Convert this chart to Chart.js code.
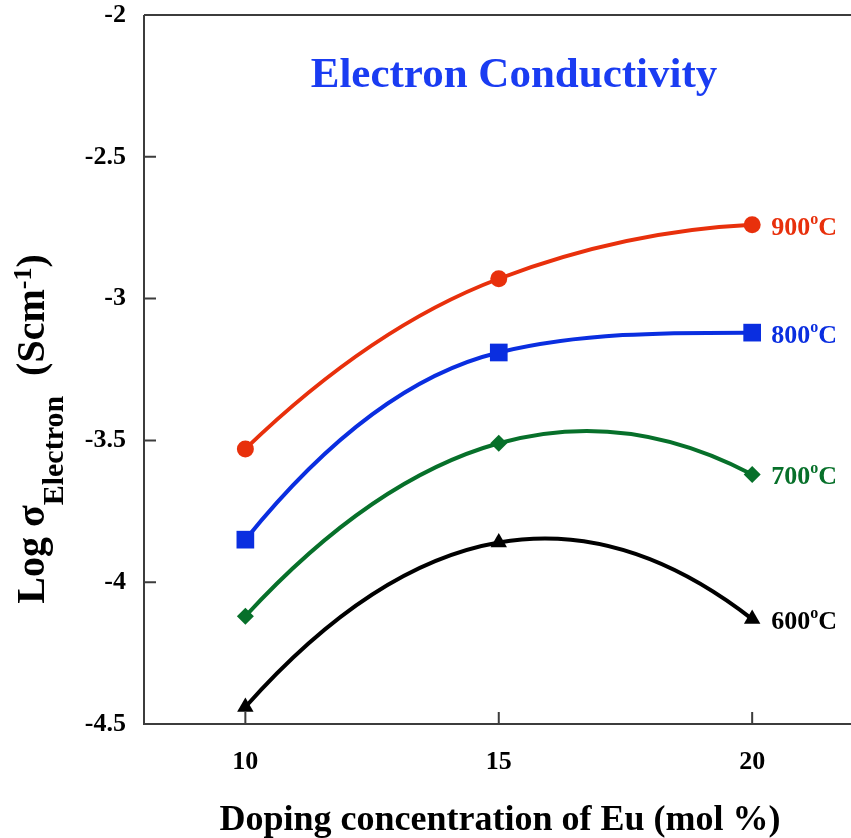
<!DOCTYPE html>
<html>
<head>
<meta charset="utf-8">
<script src="https://cdn.jsdelivr.net/npm/chart.js@4.4.0/dist/chart.umd.min.js"></script>
<style>
  html, body { margin: 0; padding: 0; background: #fff; overflow: hidden; }
  #wrap { width: 851px; height: 838px; }
  canvas { display: block; }
</style>
</head>
<body>
<div id="wrap"><canvas id="chart" width="851" height="838"></canvas></div>
<script>
// Eu doping level (mol %) and log electron conductivity per temperature
const dopingLevels = [10, 15, 20];
const temperatures = ['900', '800', '700', '600'];
const log900 = [-3.53, -2.93, -2.74];
const log800 = [-3.85, -3.19, -3.12];
const log700 = [-4.12, -3.51, -3.62];
const log600 = [-4.44, -3.86, -4.13];
const xTicks = [10, 15, 20];
const yTicks = [-2, -2.5, -3, -3.5, -4, -4.5];

const SERIF = '"Liberation Serif", "Times New Roman", serif';
const colors = ['#e8300c', '#0a2ee0', '#07702a', '#000000'];
const markers = ['circle', 'rect', 'rectRot', 'triangle'];
const markerSizes = [8.5, 12.5, 8.5, 9.5];

function makeSeries(values, i) {
    return {
        label: temperatures[i] + '°C',
        data: dopingLevels.map((x, k) => ({ x: x, y: values[k] })),
        borderColor: colors[i],
        backgroundColor: colors[i],
        borderWidth: 4,
        pointStyle: markers[i],
        pointRadius: markerSizes[i],
        pointBorderWidth: 0,
        tension: 0.4,
        clip: false
    };
}

// smoother bezier handles: concave ends, no overshoot on monotone runs
const smoothPlugin = {
    id: 'smooth',
    beforeDatasetDraw(chart, args) {
        const meta = args.meta;
        const pts = meta.data;
        const n = pts.length;
        if (n < 3) return;
        const s = [];
        for (let k = 0; k < n - 1; k++) {
            s.push((pts[k + 1].y - pts[k].y) / (pts[k + 1].x - pts[k].x));
        }
        const m = new Array(n);
        for (let i = 1; i < n - 1; i++) {
            const a = s[i - 1], b = s[i];
            m[i] = a * b > 0 ? Math.sign(a) * Math.sqrt(a * b) : (a + b) / 2;
        }
        m[0] = 2 * s[0] - m[1];
        if (s[0] * m[1] > 0 && m[0] * s[0] < 0) m[0] = 0;
        m[n - 1] = 2 * s[n - 2] - m[n - 2];
        if (s[n - 2] * m[n - 2] > 0 && m[n - 1] * s[n - 2] < 0) m[n - 1] = 0;
        pts.forEach((p, i) => {
            const hp = i > 0 ? (p.x - pts[i - 1].x) / 3 : 0;
            const hn = i < n - 1 ? (pts[i + 1].x - p.x) / 3 : 0;
            p.cp1x = p.x - hp;
            p.cp1y = p.y - m[i] * hp;
            p.cp2x = p.x + hn;
            p.cp2y = p.y + m[i] * hn;
        });
        meta.dataset._pointsUpdated = true;
    }
};

// axes frame with inward tick marks
const framePlugin = {
    id: 'frame',
    beforeDatasetsDraw(chart) {
        const { ctx, chartArea: a, scales } = chart;
        ctx.save();
        ctx.strokeStyle = '#3c3c3c';
        ctx.lineWidth = 2;
        ctx.beginPath();
        ctx.moveTo(a.left, a.top);
        ctx.lineTo(a.right, a.top);
        ctx.moveTo(a.left, a.top);
        ctx.lineTo(a.left, a.bottom);
        ctx.lineTo(a.right, a.bottom);
        yTicks.forEach(v => {
            const py = scales.y.getPixelForValue(v);
            ctx.moveTo(a.left, py);
            ctx.lineTo(a.left + 12, py);
        });
        xTicks.forEach(v => {
            const px = scales.x.getPixelForValue(v);
            ctx.moveTo(px, a.bottom);
            ctx.lineTo(px, a.bottom - 12);
        });
        ctx.stroke();
        ctx.restore();
    }
};

// title, axis titles and the temperature labels at the end of each curve
const textPlugin = {
    id: 'texts',
    afterDatasetsDraw(chart) {
        const { ctx, scales } = chart;
        ctx.save();

        ctx.fillStyle = '#1a3cf2';
        ctx.font = 'bold 43px ' + SERIF;
        ctx.textAlign = 'center';
        ctx.textBaseline = 'alphabetic';
        ctx.fillText('Electron Conductivity', 514, 87);

        ctx.fillStyle = '#000';
        ctx.font = 'bold 36px ' + SERIF;
        ctx.fillText('Doping concentration of Eu (mol %)', 500, 830);

        // y title with subscript and superscript
        const parts = [
            { t: 'Log σ', f: 'bold 40px ', dy: 0 },
            { t: 'Electron', f: 'bold 30px ', dy: 19 },
            { t: '  (Scm', f: 'bold 40px ', dy: 0 },
            { t: '-1', f: 'bold 26px ', dy: -13 },
            { t: ')', f: 'bold 40px ', dy: 0 }
        ];
        let total = 0;
        parts.forEach(p => { ctx.font = p.f + SERIF; p.w = ctx.measureText(p.t).width; total += p.w; });
        ctx.translate(44, 429);
        ctx.rotate(-Math.PI / 2);
        ctx.textAlign = 'left';
        let x = -total / 2;
        parts.forEach(p => {
            ctx.font = p.f + SERIF;
            ctx.fillText(p.t, x, p.dy);
            x += p.w;
        });
        ctx.setTransform(1, 0, 0, 1, 0, 0);

        // end-of-curve labels
        chart.data.datasets.forEach((ds, i) => {
            const last = ds.data[ds.data.length - 1];
            let px = scales.x.getPixelForValue(last.x) + 19;
            const py = scales.y.getPixelForValue(last.y) + 10;
            ctx.fillStyle = colors[i];
            ctx.textAlign = 'left';
            ctx.font = 'bold 26px ' + SERIF;
            ctx.fillText(temperatures[i], px, py);
            px += ctx.measureText(temperatures[i]).width;
            ctx.font = 'bold 16px ' + SERIF;
            ctx.fillText('o', px, py - 11);
            px += ctx.measureText('o').width;
            ctx.font = 'bold 26px ' + SERIF;
            ctx.fillText('C', px, py);
        });
        ctx.restore();
    }
};

function noPadding(s) {
    s.paddingTop = 0;
    s.paddingBottom = 0;
    s.paddingLeft = 0;
    s.paddingRight = 0;
}

new Chart(document.getElementById('chart'), {
    type: 'line',
    data: {
        datasets: [
            makeSeries(log900, 0),
            makeSeries(log800, 1),
            makeSeries(log700, 2),
            makeSeries(log600, 3)
        ]
    },
    options: {
        responsive: false,
        animation: false,
        layout: { autoPadding: false, padding: { top: 15, right: 0, left: 0, bottom: 0 } },
        plugins: {
            legend: { display: false },
            tooltip: { enabled: false }
        },
        scales: {
            x: {
                type: 'linear',
                min: 8,
                max: 21.95,
                grid: { display: false, drawTicks: false },
                border: { display: false },
                ticks: {
                    color: '#000',
                    font: { family: SERIF, size: 26, weight: 'bold' },
                    padding: 23,
                    maxRotation: 0
                },
                afterBuildTicks: s => { s.ticks = xTicks.map(v => ({ value: v })); },
                afterFit: s => { s.height = 114; noPadding(s); }
            },
            y: {
                min: -4.5,
                max: -2,
                grid: { display: false, drawTicks: false },
                border: { display: false },
                ticks: {
                    color: '#000',
                    font: { family: SERIF, size: 26, weight: 'bold' },
                    padding: 18,
                    callback: v => String(v)
                },
                afterBuildTicks: s => { s.ticks = yTicks.map(v => ({ value: v })); },
                afterFit: s => { s.width = 144; noPadding(s); }
            }
        }
    },
    plugins: [smoothPlugin, framePlugin, textPlugin]
});
</script>
</body>
</html>
